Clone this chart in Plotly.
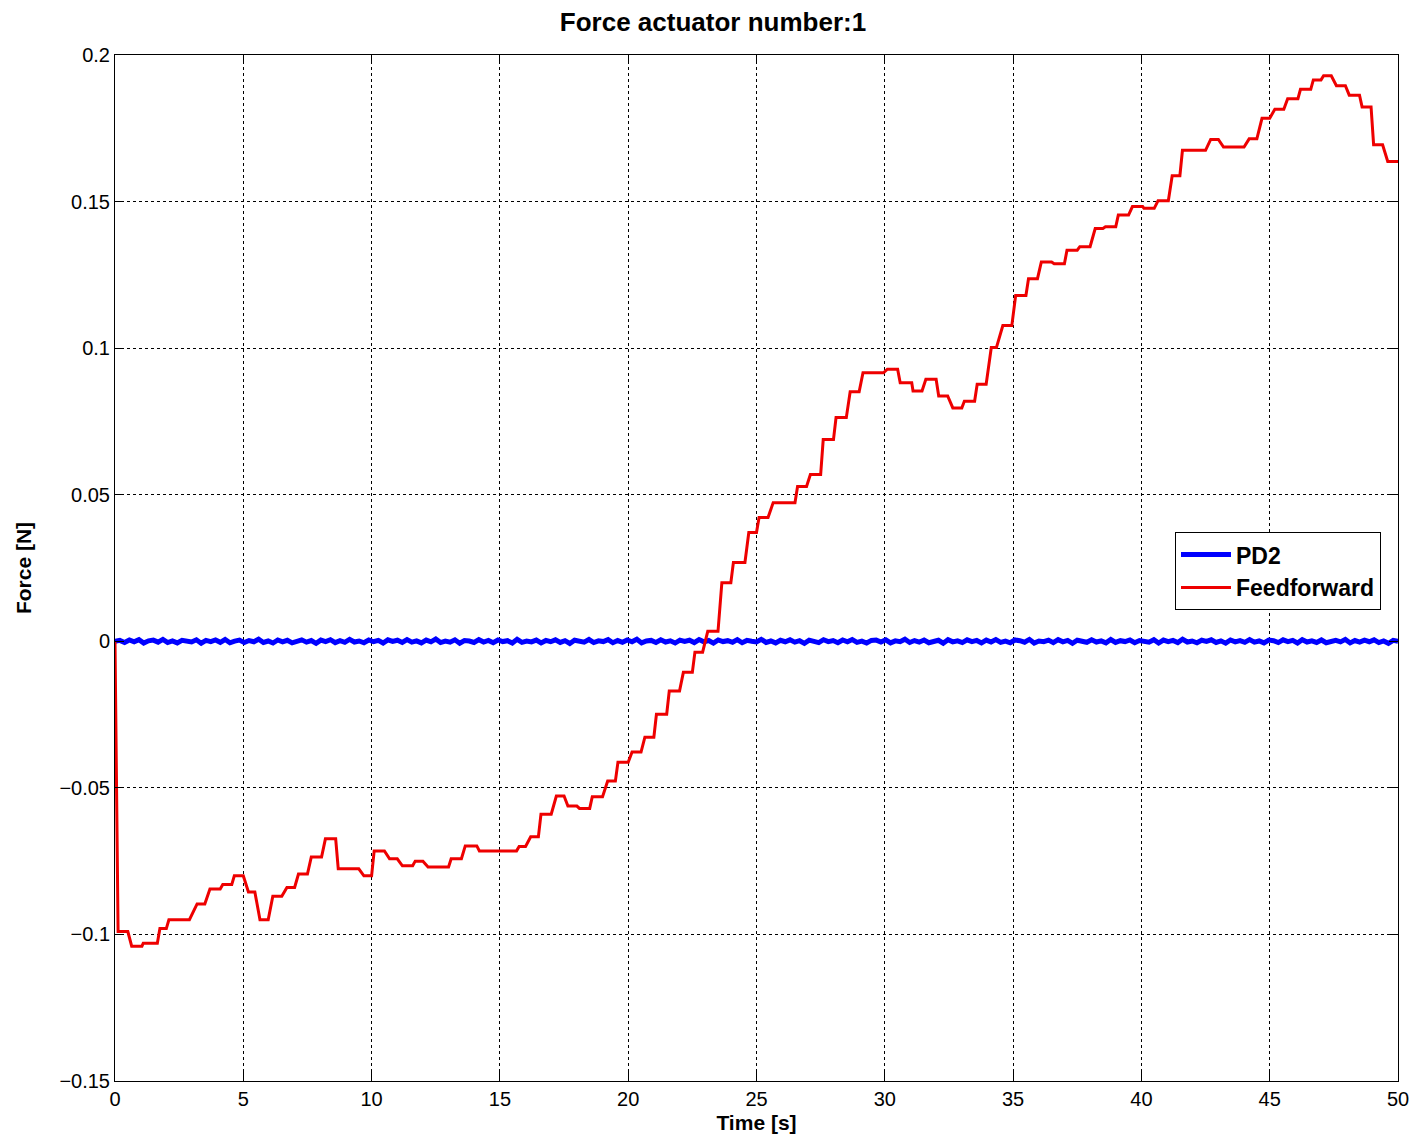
import plotly.graph_objects as go

# ---------------- data ----------------
# Feedforward force: piecewise-constant levels (start time, end time, value)
ff_t_start = [0.12, 0.65, 1.1, 1.75, 2.1, 3.2, 3.7, 4.2, 4.65, 5.2, 5.65, 6.15, 6.7, 7.15, 7.65,
              8.2, 8.7, 9.7, 10.1, 10.7, 11.2, 11.7, 12.2, 13.1, 13.65, 14.2, 15.75, 16.2, 16.6,
              17.2, 17.65, 18.1, 18.6, 19.2, 19.6, 20.15, 20.65, 21.1, 21.6, 22.15, 22.6, 23.1,
              23.65, 24.1, 24.7, 25.1, 25.65, 26.6, 27.1, 27.6, 28.1, 28.65, 29.15, 30.1, 30.6,
              31.1, 31.6, 32.1, 32.65, 33.1, 33.6, 34.15, 34.6, 35.1, 35.6, 36.1, 36.6, 37.1,
              37.6, 38.2, 38.6, 39.1, 39.65, 40.1, 40.65, 41.2, 41.6, 42.7, 43.2, 44.2, 44.7,
              45.2, 45.7, 46.2, 46.7, 47.1, 47.6, 48.1, 48.6, 49.05, 49.6]
ff_t_end = [0.5, 1.05, 1.65, 2.0, 2.9, 3.5, 4.1, 4.55, 5.0, 5.45, 5.97, 6.5, 7.0, 7.5, 8.05,
            8.6, 9.5, 10.0, 10.5, 11.0, 11.6, 12.0, 13.0, 13.5, 14.1, 15.65, 16.0, 16.5, 17.0,
            17.5, 18.0, 18.5, 19.0, 19.5, 20.0, 20.5, 21.0, 21.5, 22.0, 22.5, 22.9, 23.5,
            24.0, 24.55, 25.0, 25.45, 26.5, 26.95, 27.5, 28.0, 28.5, 29.0, 29.95, 30.5, 31.05,
            31.45, 32.0, 32.45, 33.0, 33.5, 33.95, 34.35, 34.95, 35.5, 35.95, 36.5, 37.0, 37.5,
            38.0, 38.5, 39.0, 39.5, 40.05, 40.5, 41.05, 41.5, 42.5, 43.0, 44.0, 44.5, 45.0,
            45.55, 46.1, 46.6, 47.0, 47.4, 47.95, 48.5, 48.95, 49.4, 50.0]
ff_value = [-0.099, -0.104, -0.103, -0.098, -0.095, -0.0896, -0.0845, -0.083, -0.080, -0.0855,
            -0.095, -0.087, -0.084, -0.0794, -0.0736, -0.0674, -0.0776, -0.080, -0.0715, -0.0742,
            -0.0766, -0.075, -0.077, -0.0742, -0.0698, -0.0715, -0.070, -0.0667, -0.059,
            -0.0528, -0.0562, -0.057, -0.053, -0.0477, -0.0413, -0.0378, -0.0327, -0.0249,
            -0.017, -0.0106, -0.0037, 0.0034, 0.020, 0.0269, 0.0371, 0.0422, 0.0473, 0.0528,
            0.0569, 0.0688, 0.0763, 0.0851, 0.0916, 0.0928, 0.0882, 0.0854, 0.0894, 0.0837,
            0.0796, 0.0819, 0.0877, 0.1002, 0.1077, 0.118, 0.1237, 0.1294, 0.1288, 0.1334,
            0.1346, 0.1408, 0.1414, 0.1454, 0.1483, 0.1477, 0.1503, 0.1588, 0.1675, 0.1712,
            0.1686, 0.1714, 0.1784, 0.1815, 0.1851, 0.1883, 0.1915, 0.1929, 0.1895, 0.1863,
            0.1823, 0.1694, 0.1637]
# initial transient at start
ff_start_t = [0.0, 0.04, 0.08]
ff_start_v = [0.0, -0.040, -0.085]

# PD2 force: small fluctuations around zero, in units of 0.5 mN (read as a thin noisy band)
pd2_values_halfmilli = [
    0.0, 0.6, -0.8, 0.9, -0.4, 1.1, -1.2, 0.3, 0.8, -0.6, 1.3, -0.9, 0.2, -1.1, 0.7, 0.4, -0.5, 1.0,
    -1.3, 0.6, -0.2, 0.9, -0.7, 1.2, -1.0, 0.1, 0.8, -0.9, 0.5, -0.3, 1.4, -0.8, 0.2, -1.2, 0.9,
    -0.4, 0.7, -1.1, 0.3, 1.0, -0.6, 0.5, -1.4, 0.8, -0.2, 1.1, -0.9, 0.4, -0.7, 1.3, -0.5, 0.2,
    -1.0, 0.9, -0.3, 0.6, -1.2, 1.0, -0.1, 0.7, -0.8, 1.2, -0.6, 0.3, -1.1, 0.8, -0.4, 1.5, -0.9,
    0.1, -0.6, 1.0, -1.3, 0.5, 0.2, -0.8, 1.1, -0.5, 0.6, -1.0, 0.9, -0.2, 0.4, -1.2, 1.3, -0.7,
    0.2, -0.4, 0.8, -1.1, 0.6, -0.3, 1.0, -0.8, 0.4, -1.5, 0.7, 0.1, -0.6, 1.2, -0.9, 0.3, -0.2,
    1.1, -1.0, 0.5, -0.7, 0.9, -0.3, 1.4, -1.1, 0.2, 0.6, -0.8, 1.0, -0.5, 0.3, -1.2, 0.8, -0.1,
    0.7, -0.9, 1.2, -0.4, 0.5, -1.3, 0.9, -0.2, 0.4, -0.7, 1.1, -1.0, 0.6, 0.0, -0.5, 1.3, -0.8,
    0.2, -1.1, 0.7, -0.3, 1.0, -0.6, 0.4, -1.4, 0.8, 0.3, -0.9, 1.1, -0.2, 0.5, -1.0, 0.9, -0.4,
    1.2, -0.7, 0.1, -1.2, 0.6, 0.8, -0.5, 1.0, -1.1, 0.3, -0.3, 1.4, -0.8, 0.5, -0.6, 0.9, -1.0,
    0.2, 0.7, -1.3, 1.1, -0.4, 0.3, -0.9, 1.0, -0.2, 0.6, -1.1, 0.8, -0.5, 1.2, -0.7, 0.1, -1.0,
    0.9, 0.4, -0.6, 1.3, -1.2, 0.2, -0.3, 0.8, -0.9, 1.1, -0.4, 0.6, -1.4, 0.7, 0.0, -0.7, 1.0,
    -0.5, 0.3, -1.1, 1.2, -0.8, 0.4, -0.2, 0.9, -1.0, 0.5, 0.1, -0.6, 1.1, -1.2, 0.8, -0.3, 0.6,
    -0.9, 1.4, -0.5, 0.2, -1.0, 0.7, -0.1, 1.0, -0.8, 0.3, -1.3, 0.9, -0.4, 0.5, -0.7, 1.2, -0.6,
    0.2, -1.1, 0.8, 0.4, -0.9, 1.0, -0.2, 0.6, -1.2, 1.1, -0.5, 0.3, -0.8, 0.9, -1.0, 0.1, 0.7,
    -0.4, 1.3, -1.1, 0.5, -0.6, 0.8, -0.3, 1.0, -0.9, 0.2, -1.4, 0.6, 0.0
]

x_ticks = [0, 5, 10, 15, 20, 25, 30, 35, 40, 45, 50]
y_ticks = [-0.15, -0.1, -0.05, 0, 0.05, 0.1, 0.15, 0.2]
y_tick_labels = ["\u22120.15", "\u22120.1", "\u22120.05", "0", "0.05", "0.1", "0.15", "0.2"]

# ---------------- build traces ----------------
ff_x = list(ff_start_t)
ff_y = list(ff_start_v)
for a, b, v in zip(ff_t_start, ff_t_end, ff_value):
    ff_x += [a, b]
    ff_y += [v, v]

n = len(pd2_values_halfmilli)
pd2_x = [50.0 * i / (n - 1) for i in range(n)]
pd2_y = [v * 5e-4 for v in pd2_values_halfmilli]

fig = go.Figure()
fig.add_trace(go.Scatter(x=pd2_x, y=pd2_y, mode="lines", name="<b>PD2</b>",
                         line=dict(color="#0000ff", width=5)))
fig.add_trace(go.Scatter(x=ff_x, y=ff_y, mode="lines", name="<b>Feedforward</b>",
                         line=dict(color="#ee0000", width=3)))

font_family = "Liberation Sans, Arial, sans-serif"

fig.update_layout(
    width=1426, height=1143,
    margin=dict(l=115, r=28, t=55, b=60),
    paper_bgcolor="white", plot_bgcolor="white",
    font=dict(family=font_family, color="black", size=19),
    title=dict(text="<b>Force actuator number:1</b>", x=0.5, xanchor="center",
               y=1 - 22 / 1143, yanchor="middle", font=dict(size=26)),
    showlegend=True,
    legend=dict(x=(1175 - 115) / 1283, y=(1083 - 533) / 1028, xanchor="left", yanchor="top",
                bgcolor="white", bordercolor="black", borderwidth=1,
                font=dict(size=23), tracegroupgap=0, itemwidth=50),
)

fig.update_xaxes(
    range=[0, 50], tickvals=x_ticks, ticktext=[str(v) for v in x_ticks],
    showgrid=True, gridcolor="black", griddash="dot", gridwidth=1,
    showline=True, linecolor="black", linewidth=1, mirror="allticks",
    ticks="inside", ticklen=9, tickcolor="black", zeroline=False,
    tickfont=dict(size=20),
    title=dict(text="<b>Time [s]</b>", standoff=6, font=dict(size=21)),
)
fig.update_yaxes(
    range=[-0.15, 0.2], tickvals=y_ticks, ticktext=y_tick_labels,
    showgrid=True, gridcolor="black", griddash="dot", gridwidth=1,
    showline=True, linecolor="black", linewidth=1, mirror="allticks",
    ticks="inside", ticklen=9, tickcolor="black", zeroline=False,
    tickfont=dict(size=20), ticklabelstandoff=0,
    title=dict(text="<b>Force [N]</b>", standoff=22, font=dict(size=21)),
)

fig.write_html("out.html")
